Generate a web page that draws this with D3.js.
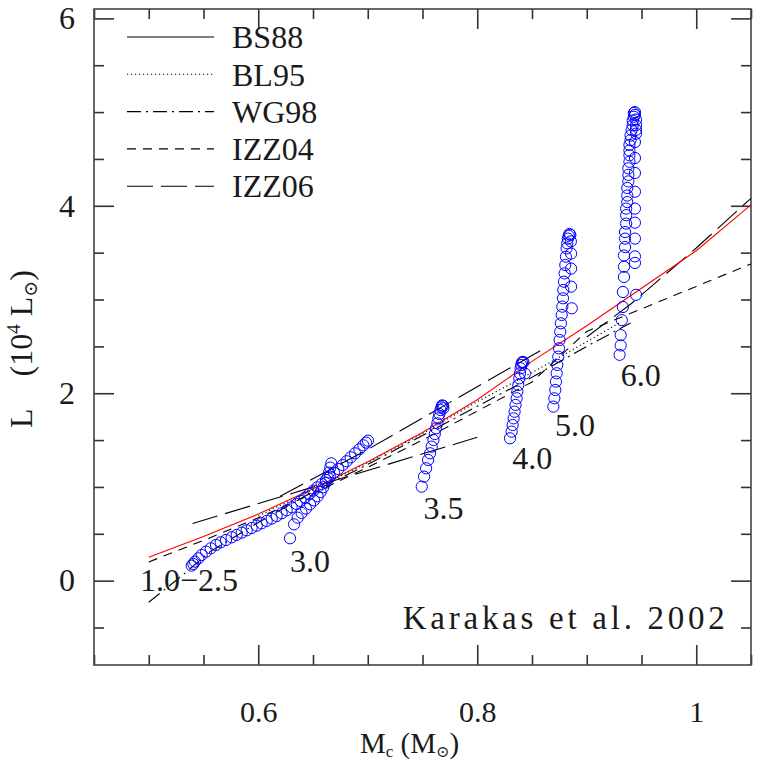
<!DOCTYPE html>
<html><head><meta charset="utf-8">
<script src="https://cdn.jsdelivr.net/npm/d3@7"></script>
<style>
html,body{margin:0;padding:0;background:#fff;}
text{font-family:"Liberation Serif","DejaVu Serif",serif;fill:#1a1a1a;}
</style></head>
<body>
<svg id="chart" width="764" height="760"></svg>
<script>
// ---- data ----
const xMajorTicks = [0.6, 0.8, 1.0];
const xMajorLabels = ["0.6", "0.8", "1"];
const xMinorTicks = [0.45,0.5,0.55,0.65,0.7,0.75,0.85,0.9,0.95,1.05];
const yMajorTicks = [0, 2, 4, 6];
const yMajorLabels = ["0", "2", "4", "6"];
const yMinorTicks = [-0.5,0.5,1,1.5,2.5,3,3.5,4.5,5,5.5];

const legendNames = ["BS88", "BL95", "WG98", "IZZ04", "IZZ06"];

// red curve
const fitLine = [[0.50,0.25],[0.55,0.47],[0.60,0.71],[0.65,0.98],[0.70,1.27],[0.75,1.58],[0.80,1.93],[0.85,2.34],[0.90,2.72],[0.95,3.12],[1.00,3.52],[1.05,4.01]];
const bl95Line = [[0.60,0.69],[0.65,0.97],[0.70,1.26],[0.75,1.57],[0.80,1.91],[0.85,2.22],[0.90,2.55],[0.93,2.75]];
const wg98Line = [[0.50,-0.23],[0.53,0.05],[0.556,0.31],[0.60,0.62],[0.65,0.95],[0.70,1.24],[0.75,1.55],[0.80,1.86],[0.85,2.17],[0.90,2.50],[0.94,2.75]];
const izz04Line = [[0.50,0.20],[0.55,0.43],[0.60,0.67],[0.65,0.93],[0.70,1.21],[0.75,1.50],[0.80,1.81],[0.85,2.12],[0.90,2.66],[0.95,2.90],[1.00,3.14],[1.05,3.38]];
const izz06LineA = [[0.54,0.61],[0.80,1.53]];
const izz06LineB = [[0.62,0.90],[0.70,1.40],[0.80,2.07],[0.86,2.47]];
const izz06LineC = [[0.90,2.60],[0.94,2.95],[1.00,3.55],[1.05,4.08]];

// Karakas et al. 2002 models (Mc, L/1e4)
const karakasLow = [[0.5392,0.160],[0.5407,0.178],[0.5422,0.203],[0.5453,0.239],[0.5483,0.274],[0.5523,0.310],[0.5566,0.345],[0.5614,0.381],[0.5657,0.409],[0.5706,0.434],[0.5757,0.463],[0.5803,0.488],[0.5849,0.512],[0.5894,0.537],[0.5940,0.562],[0.5986,0.587],[0.6031,0.612],[0.6077,0.637],[0.6123,0.662],[0.6168,0.690],[0.6214,0.719],[0.6260,0.751],[0.6305,0.783],[0.6351,0.818],[0.6387,0.850],[0.6427,0.886],[0.6467,0.925],[0.6503,0.961],[0.6540,0.996],[0.6579,1.032],[0.6619,1.074],[0.6655,1.110],[0.6692,1.153],[0.6731,1.192],[0.6771,1.234],[0.6807,1.274],[0.6844,1.316],[0.6884,1.359],[0.6923,1.402],[0.6960,1.444],[0.6984,1.473],[0.7002,1.494]];
const karakas30 = [[0.6290,0.452],[0.6327,0.601],[0.6360,0.672],[0.6396,0.722],[0.6436,0.769],[0.6473,0.815],[0.6509,0.857],[0.6542,0.900],[0.6570,0.946],[0.6594,0.996],[0.6616,1.046],[0.6634,1.099],[0.6646,1.153],[0.6658,1.206],[0.6667,1.252]];
const karakas35 = [[0.7493,1.003],[0.7514,1.110],[0.7533,1.199],[0.7551,1.288],[0.7569,1.359],[0.7584,1.430],[0.7600,1.501],[0.7612,1.565],[0.7624,1.626],[0.7636,1.679],[0.7645,1.732],[0.7654,1.779],[0.7664,1.821],[0.7673,1.850],[0.7679,1.870],[0.7688,1.865],[0.7691,1.840]];
const karakas40 = [[0.8299,1.519],[0.8314,1.590],[0.8323,1.661],[0.8332,1.732],[0.8341,1.803],[0.8350,1.875],[0.8360,1.946],[0.8366,2.017],[0.8375,2.088],[0.8384,2.159],[0.8390,2.212],[0.8396,2.266],[0.8402,2.301],[0.8408,2.325],[0.8415,2.335],[0.8422,2.330],[0.8435,2.210]];
const karakas50 = [[0.8695,1.857],[0.8704,1.946],[0.8713,2.035],[0.8719,2.124],[0.8725,2.213],[0.8731,2.302],[0.8740,2.390],[0.8746,2.479],[0.8752,2.568],[0.8758,2.657],[0.8764,2.746],[0.8771,2.835],[0.8777,2.924],[0.8783,3.013],[0.8786,3.102],[0.8792,3.190],[0.8798,3.279],[0.8804,3.368],[0.8810,3.457],[0.8816,3.546],[0.8822,3.600],[0.8828,3.650],[0.8835,3.680],[0.8842,3.700],[0.8850,3.690],[0.8855,3.620],[0.8857,3.490],[0.8857,3.330],[0.8857,3.137],[0.8863,2.906]];
const karakas60 = [[0.930,2.41],[0.931,2.51],[0.931,2.62],[0.932,2.78],[0.933,2.92],[0.933,3.08],[0.934,3.24],[0.934,3.35],[0.934,3.47],[0.935,3.56],[0.935,3.65],[0.935,3.72],[0.936,3.81],[0.936,3.90],[0.936,3.97],[0.937,4.04],[0.937,4.11],[0.937,4.19],[0.938,4.26],[0.938,4.33],[0.938,4.40],[0.939,4.47],[0.939,4.54],[0.939,4.59],[0.939,4.65],[0.940,4.70],[0.940,4.75],[0.941,4.81],[0.942,4.86],[0.942,4.91],[0.943,4.95],[0.943,4.99],[0.944,5.00],[0.944,4.97],[0.945,4.92],[0.945,4.86],[0.945,4.81],[0.945,4.77],[0.944,4.68],[0.944,4.51],[0.944,4.35],[0.944,4.15],[0.944,3.97],[0.944,3.82],[0.944,3.65],[0.944,3.46],[0.944,3.39],[0.945,3.05]];

const massLabels = [
  {text:"1.0\u22122.5", mc:0.492, l:-0.11},
  {text:"3.0", mc:0.629, l:0.09},
  {text:"3.5", mc:0.751, l:0.66},
  {text:"4.0", mc:0.832, l:1.19},
  {text:"5.0", mc:0.871, l:1.54},
  {text:"6.0", mc:0.931, l:2.08}
];

// ---- layout ----
const plot = {left:94, right:751, top:9, bottom:665};
const x = d3.scaleLinear().domain([0.45, 1.05]).range([plot.left, plot.right]);
const y = d3.scaleLinear().domain([-0.9, 6.1]).range([plot.bottom, plot.top]);
const FS = 32;

const svg = d3.select("#chart");
const axisColor = "#333";

function styleAxis(g, fs){
  g.select(".domain").remove();
  g.selectAll(".tick line").attr("stroke", axisColor).attr("stroke-width", 1.6);
  g.selectAll(".tick text").style("font-family","Liberation Serif, serif").style("font-size",(fs||FS)+"px").attr("fill","#1a1a1a");
}

// bottom
svg.append("g").attr("transform",`translate(0,${plot.bottom})`)
  .call(d3.axisBottom(x).tickValues(xMajorTicks).tickSize(-20).tickPadding(36).tickFormat((d,i)=>xMajorLabels[i]))
  .call(g=>styleAxis(g,30));
svg.append("g").attr("transform",`translate(0,${plot.bottom})`)
  .call(d3.axisBottom(x).tickValues(xMinorTicks).tickSize(-10).tickFormat(""))
  .call(styleAxis);
// top
svg.append("g").attr("transform",`translate(0,${plot.top})`)
  .call(d3.axisTop(x).tickValues(xMajorTicks).tickSize(-20).tickFormat(""))
  .call(styleAxis);
svg.append("g").attr("transform",`translate(0,${plot.top})`)
  .call(d3.axisTop(x).tickValues(xMinorTicks).tickSize(-10).tickFormat(""))
  .call(styleAxis);
// left
svg.append("g").attr("transform",`translate(${plot.left},0)`)
  .call(d3.axisLeft(y).tickValues(yMajorTicks).tickSize(-20).tickPadding(19).tickFormat((d,i)=>yMajorLabels[i]))
  .call(styleAxis);
svg.append("g").attr("transform",`translate(${plot.left},0)`)
  .call(d3.axisLeft(y).tickValues(yMinorTicks).tickSize(-10).tickFormat(""))
  .call(styleAxis);
// right
svg.append("g").attr("transform",`translate(${plot.right},0)`)
  .call(d3.axisRight(y).tickValues(yMajorTicks).tickSize(-20).tickFormat(""))
  .call(styleAxis);
svg.append("g").attr("transform",`translate(${plot.right},0)`)
  .call(d3.axisRight(y).tickValues(yMinorTicks).tickSize(-10).tickFormat(""))
  .call(styleAxis);

// frame
svg.append("rect").attr("x",plot.left).attr("y",plot.top)
  .attr("width",plot.right-plot.left).attr("height",plot.bottom-plot.top)
  .attr("fill","none").attr("stroke","#444").attr("stroke-width",1.6);

svg.append("clipPath").attr("id","clip").append("rect")
  .attr("x",plot.left).attr("y",plot.top).attr("width",plot.right-plot.left).attr("height",plot.bottom-plot.top);

const line = d3.line().x(d=>x(d[0])).y(d=>y(d[1]));
const gLines = svg.append("g").attr("clip-path","url(#clip)");

const styles = {
  BS88: {dash:null},
  BL95: {dash:"1.2,2.8"},
  WG98: {dash:"14,5,2,5"},
  IZZ04: {dash:"9,7"},
  IZZ06: {dash:"26,8"}
};

function drawLine(data, dash, color){
  gLines.append("path").datum(data).attr("d", line)
    .attr("fill","none").attr("stroke", color||"#000").attr("stroke-width",1.1)
    .attr("stroke-dasharray", dash);
}
drawLine(bl95Line, styles.BL95.dash);
drawLine(wg98Line, styles.WG98.dash);
drawLine(izz04Line, styles.IZZ04.dash);
drawLine(izz06LineA, styles.IZZ06.dash);
drawLine(izz06LineB, styles.IZZ06.dash);
drawLine(izz06LineC, styles.IZZ06.dash);

// circles
const groups = [karakasLow, karakas30, karakas35, karakas40, karakas50, karakas60];
const gPts = svg.append("g");
groups.forEach(g=>{
  gPts.selectAll(null).data(g).enter().append("circle")
    .attr("cx",d=>x(d[0])).attr("cy",d=>y(d[1])).attr("r",5.6)
    .attr("fill","none").attr("stroke","#0000ff").attr("stroke-width",1);
});

drawLine(fitLine, null, "#ff0000");

// mass labels
svg.append("g").selectAll("text").data(massLabels).enter().append("text")
  .attr("x",d=>x(d.mc)).attr("y",d=>y(d.l)).attr("font-size",FS).text(d=>d.text);

// reference text
svg.append("text").attr("x",x(0.732)).attr("y",y(-0.52)).attr("font-size",33)
  .attr("textLength",322).attr("lengthAdjust","spacing").text("Karakas et al. 2002");

// legend
const legY0 = 37, legDy = 37.3;
const leg = svg.append("g");
legendNames.forEach((n,i)=>{
  const yy = legY0 + i*legDy;
  leg.append("line").attr("x1",127).attr("x2",214).attr("y1",yy).attr("y2",yy)
    .attr("stroke","#000").attr("stroke-width",1.1).attr("stroke-dasharray", styles[n].dash);
  leg.append("text").attr("x",232).attr("y",yy).attr("dy","0.35em").attr("font-size",FS).text(n);
});

// axis titles
const xt = svg.append("text").attr("x",360).attr("y",753).attr("font-size",29);
xt.append("tspan").text("M");
xt.append("tspan").attr("dy",4).attr("font-size",17).text("c");
xt.append("tspan").attr("dy",-4).text(" (M");
xt.append("tspan").attr("dy",4).attr("font-size",16).text("\u2299");
xt.append("tspan").attr("dy",-4).text(")");

const yt = svg.append("text").attr("transform","translate(32,428) rotate(-90)").attr("font-size",FS);
yt.append("tspan").text("L\u2003(10");
yt.append("tspan").attr("dy",-12).attr("font-size",19).text("4");
yt.append("tspan").attr("dy",12).text(" L");
yt.append("tspan").attr("dy",5).attr("font-size",19).text("\u2299");
yt.append("tspan").attr("dy",-5).text(")");
</script>
</body></html>
